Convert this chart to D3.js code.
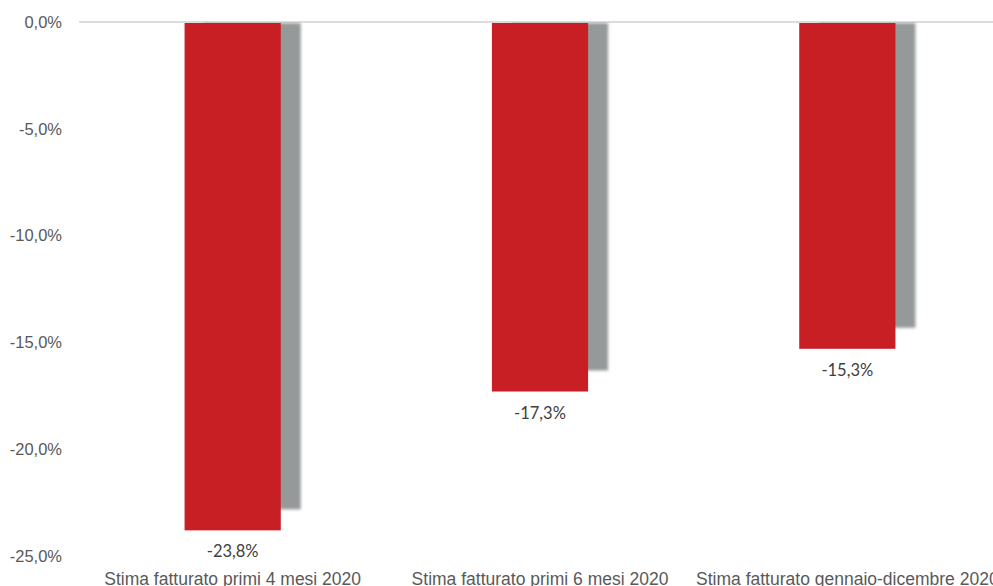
<!DOCTYPE html>
<html>
<head>
<meta charset="utf-8">
<script src="https://cdn.jsdelivr.net/npm/d3@7"></script>
<style>
  body { margin: 0; background: #fff; }
  svg { display: block; font-family: Lato, "Open Sans", sans-serif; }
  .axis text { fill: #595959; font-size: 16.5px; }
  .axis path, .axis line { display: none; }
</style>
</head>
<body>
<svg id="chart"></svg>
<script>
// data
const categories = ['Stima fatturato primi 4 mesi 2020', 'Stima fatturato primi 6 mesi 2020', 'Stima fatturato gennaio-dicembre 2020'];
const values = [-23.8, -17.3, -15.3];
const yTicks = [0, -5, -10, -15, -20, -25];

const width = 993, height = 586;
const margin = {top: 22, right: -8, bottom: 30, left: 79};
const innerW = width - margin.left - margin.right;
const innerH = height - margin.top - margin.bottom;

const svg = d3.select('#chart').attr('width', width).attr('height', height);

const defs = svg.append('defs');
defs.append('filter').attr('id', 'blur')
    .attr('x', '-20%').attr('y', '-5%').attr('width', '140%').attr('height', '110%')
  .append('feGaussianBlur').attr('stdDeviation', 1.6);
defs.append('clipPath').attr('id', 'below-zero')
  .append('rect').attr('x', 0).attr('y', 0).attr('width', innerW).attr('height', innerH + 40);

const g = svg.append('g').attr('transform', `translate(${margin.left},${margin.top})`);

const x = d3.scaleBand().domain(categories).range([0, innerW])
    .paddingInner(0.687).paddingOuter(0.3435);
const y = d3.scaleLinear().domain([0, -25]).range([0, innerH]);

// Italian style: comma decimal, plain hyphen
const fmt = v => d3.format('.1f')(v).replace('.', ',').replace('\u2212', '-') + '%';

// y axis labels
g.append('g').attr('class', 'axis')
    .attr('transform', 'translate(-17,0)')
    .call(d3.axisLeft(y).tickValues(yTicks).tickSize(0).tickPadding(0).tickFormat(fmt));

// zero line
g.append('line')
    .attr('x1', 0).attr('x2', innerW)
    .attr('y1', y(0)).attr('y2', y(0))
    .attr('stroke', '#d0d0d0').attr('stroke-width', 1.5);

const data = categories.map((c, i) => ({cat: c, val: values[i]}));

// shadows
g.append('g').attr('clip-path', 'url(#below-zero)')
  .selectAll('rect').data(data).join('rect')
    .attr('x', d => x(d.cat) + 20)
    .attr('y', y(0) + 1)
    .attr('width', x.bandwidth())
    .attr('height', d => y(d.val) - y(0) - 22)
    .attr('fill', '#95999a')
    .attr('filter', 'url(#blur)');

// bars
g.append('g').selectAll('rect').data(data).join('rect')
    .attr('x', d => x(d.cat))
    .attr('y', y(0) + 1)
    .attr('width', x.bandwidth())
    .attr('height', d => y(d.val) - y(0) - 1)
    .attr('fill', '#c81f25');

// value labels
g.append('g').selectAll('text').data(data).join('text')
    .attr('x', d => x(d.cat) + x.bandwidth() / 2)
    .attr('y', d => y(d.val) + 27)
    .attr('text-anchor', 'middle')
    .attr('fill', '#404040')
    .attr('font-size', 16.5)
    .text(d => fmt(d.val));

// category labels
g.append('g').attr('class', 'axis')
    .attr('transform', `translate(0,${innerH})`)
    .call(d3.axisBottom(x).tickSize(0).tickPadding(11))
  .selectAll('text').attr('dy', 0).attr('dominant-baseline', 'auto')
    .attr('y', 28.5)
    .style('font-size', '17.5px');
</script>
</body>
</html>
